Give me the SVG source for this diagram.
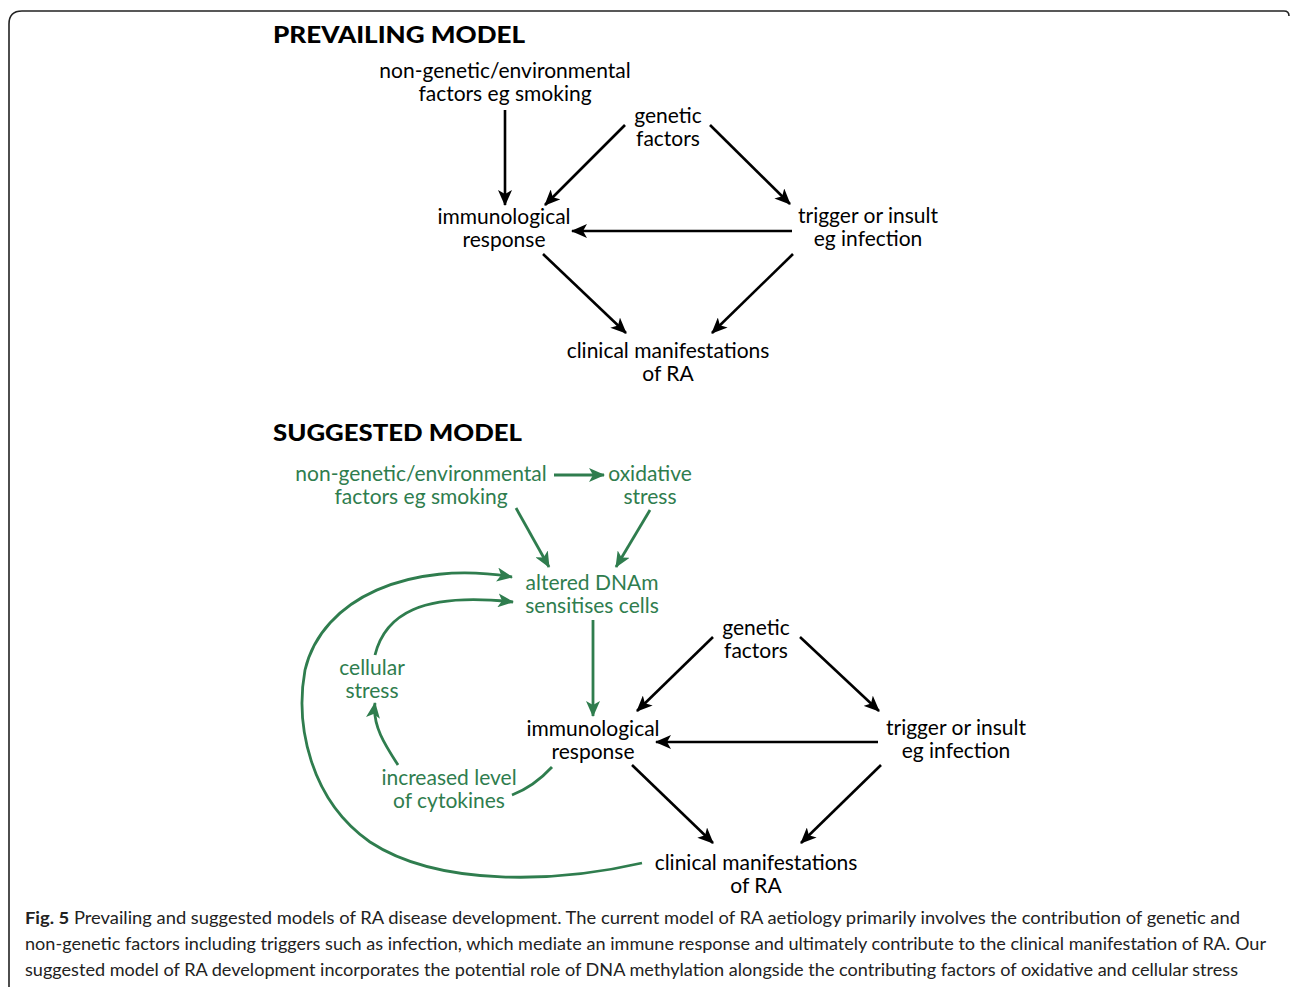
<svg xmlns="http://www.w3.org/2000/svg" width="1290" height="989" viewBox="0 0 1290 989">
<style>
.t{font-family:Lato,"Open Sans",sans-serif;font-size:21px;text-anchor:middle;fill:#000}
.g{fill:#2f7d4e}
.h{font-family:Lato,"Open Sans",sans-serif;font-size:22px;font-weight:900;fill:#000}
.cap{font-family:Lato,"Open Sans",sans-serif;font-size:17px;fill:#222}
.k{stroke:#000;stroke-width:2.6;fill:none;marker-end:url(#ak)}
.gl{stroke:#2f7d4e;stroke-width:2.8;fill:none;marker-end:url(#ag)}
</style>
<defs>
<marker id="ak" markerUnits="userSpaceOnUse" markerWidth="16" markerHeight="14" refX="15" refY="7" orient="auto" viewBox="0 0 16 14"><path d="M0,0 L16,7 L0,14 L4,7 z" fill="#000"/></marker>
<marker id="ag" markerUnits="userSpaceOnUse" markerWidth="16" markerHeight="14" refX="15" refY="7" orient="auto" viewBox="0 0 16 14"><path d="M0,0 L16,7 L0,14 L4,7 z" fill="#2f7d4e"/></marker>
</defs>
<rect width="1290" height="989" fill="#fff"/>
<path d="M9,987 L9,24 Q9,11 22,11 L1284,11 Q1289,11 1289,16" fill="none" stroke="#222" stroke-width="1.6"/>

<g id="prevailing-title"><text class="h" x="273" y="43" textLength="252" lengthAdjust="spacingAndGlyphs">PREVAILING MODEL</text></g>
<g id="p-env"><text class="t" x="505" y="78">non-genetic/environmental</text><text class="t" x="505" y="101">factors eg smoking</text></g>
<g id="p-gen"><text class="t" x="668" y="123">genetic</text><text class="t" x="668" y="146">factors</text></g>
<g id="p-imm"><text class="t" x="504" y="224">immunological</text><text class="t" x="504" y="247">response</text></g>
<g id="p-trig"><text class="t" x="868" y="223">trigger or insult</text><text class="t" x="868" y="246">eg infection</text></g>
<g id="p-clin"><text class="t" x="668" y="358">clinical manifestations</text><text class="t" x="668" y="381">of RA</text></g>

<g id="suggested-title"><text class="h" x="273" y="441" textLength="249" lengthAdjust="spacingAndGlyphs">SUGGESTED MODEL</text></g>
<g id="s-env"><text class="t g" x="421" y="481">non-genetic/environmental</text><text class="t g" x="421" y="504">factors eg smoking</text></g>
<g id="s-ox"><text class="t g" x="650" y="481">oxidative</text><text class="t g" x="650" y="504">stress</text></g>
<g id="s-dnam"><text class="t g" x="592" y="590">altered DNAm</text><text class="t g" x="592" y="613">sensitises cells</text></g>
<g id="s-cell"><text class="t g" x="372" y="675">cellular</text><text class="t g" x="372" y="698">stress</text></g>
<g id="s-cyto"><text class="t g" x="449" y="785">increased level</text><text class="t g" x="449" y="808">of cytokines</text></g>
<g id="s-gen"><text class="t" x="756" y="635">genetic</text><text class="t" x="756" y="658">factors</text></g>
<g id="s-imm"><text class="t" x="593" y="736">immunological</text><text class="t" x="593" y="759">response</text></g>
<g id="s-trig"><text class="t" x="956" y="735">trigger or insult</text><text class="t" x="956" y="758">eg infection</text></g>
<g id="s-clin"><text class="t" x="756" y="870">clinical manifestations</text><text class="t" x="756" y="893">of RA</text></g>

<g id="connectors">
<path class="k" d="M505,110 L505,205"/>
<path class="k" d="M625,125 L545,205"/>
<path class="k" d="M710,125 L790,204"/>
<path class="k" d="M792,231 L572,231"/>
<path class="k" d="M543,254 L626,333"/>
<path class="k" d="M793,254 L712,333"/>

<path class="k" d="M713,637 L637,711"/>
<path class="k" d="M800,637 L879,711"/>
<path class="k" d="M878,742 L656,742"/>
<path class="k" d="M632,765 L713,843"/>
<path class="k" d="M881,765 L801,843"/>

<path class="gl" d="M554,475 L604,475"/>
<path class="gl" d="M516,508 L549,567"/>
<path class="gl" d="M650,510 L616,567"/>
<path class="gl" d="M593,620 L593,716"/>
<path class="gl" d="M642,863 C560,882 440,888 370,842 C310,800 295,725 305,670 C322,598 410,560 512,577"/>
<path class="gl" d="M375,655 C385,615 420,592 513,602"/>
<path class="gl" d="M398,765 C385,745 372,725 375,703"/>
<path class="gl" d="M552,767 C540,780 525,790 512,795" style="marker-end:none"/>
</g>

<g id="caption">
<text class="cap" x="25" y="924" textLength="1215" lengthAdjust="spacingAndGlyphs"><tspan font-weight="bold">Fig. 5</tspan> Prevailing and suggested models of RA disease development. The current model of RA aetiology primarily involves the contribution of genetic and</text>
<text class="cap" x="25" y="950" textLength="1241" lengthAdjust="spacingAndGlyphs">non-genetic factors including triggers such as infection, which mediate an immune response and ultimately contribute to the clinical manifestation of RA. Our</text>
<text class="cap" x="25" y="976" textLength="1213" lengthAdjust="spacingAndGlyphs">suggested model of RA development incorporates the potential role of DNA methylation alongside the contributing factors of oxidative and cellular stress</text>
</g>
</svg>
